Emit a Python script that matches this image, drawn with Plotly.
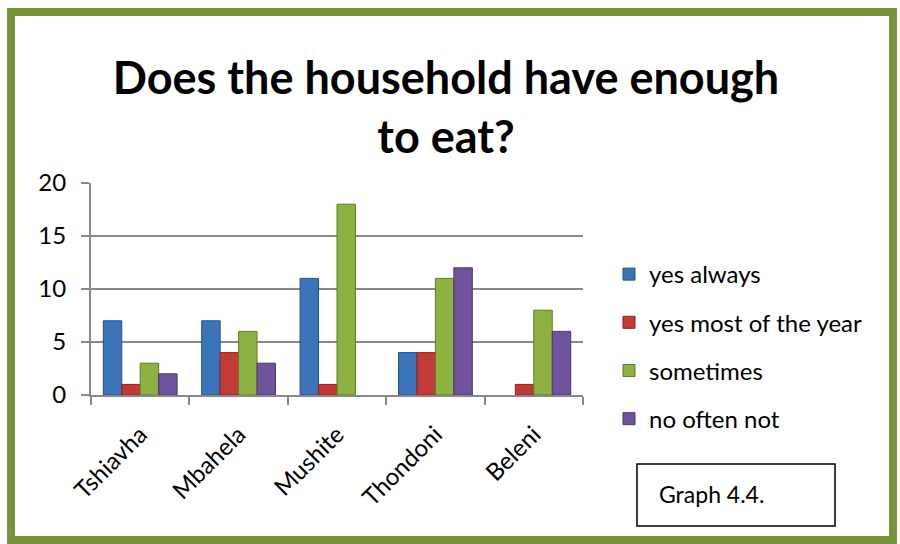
import plotly.graph_objects as go

villages = ["Tshiavha", "Mbahela", "Mushite", "Thondoni", "Beleni"]
yes_always = [7, 7, 11, 4, 0]
yes_most = [1, 4, 1, 4, 1]
sometimes = [3, 6, 18, 11, 8]
no_often_not = [2, 3, 0, 12, 6]
series_names = ["yes always", "yes most of the year", "sometimes", "no often not"]
y_ticks = [0, 5, 10, 15, 20]

colors = ["#3B74B9", "#C23B36", "#8DB23F", "#71529C"]
edges = ["#24507F", "#8A2420", "#5F7C25", "#4C3570"]

FONT = "Lato"
L, R, T, B = 91, 317, 183, 149
W, H = 900, 544
pw, ph = W - L - R, H - T - B

def px_x(x):
    return (x - L) / pw

def px_y(y):
    return (H - B - y) / ph

fig = go.Figure()
for i, (name, vals) in enumerate(zip(series_names, [yes_always, yes_most, sometimes, no_often_not])):
    fig.add_trace(go.Bar(
        x=villages, y=vals, name=name,
        marker=dict(color=colors[i],
                    line=dict(color=edges[i], width=[1 if v > 0 else 0 for v in vals])),
        legendgroup=name,
    ))

fig.update_layout(
    width=W, height=H,
    margin=dict(l=L, r=R, t=T, b=B),
    paper_bgcolor="white", plot_bgcolor="white",
    barmode="group", bargap=0.25, bargroupgap=0,
    font=dict(family=FONT, size=24, color="black"),
    title=dict(
        text="<b>Does the household have enough<br>to eat?</b>",
        x=446 / W, xanchor="center", xref="container",
        y=1 - 94 / H, yanchor="top", yref="container",
        font=dict(family=FONT, size=45, color="black"),
    ),
    legend=dict(
        x=px_x(609), xanchor="left", y=px_y(252), yanchor="top",
        font=dict(family=FONT, size=24), tracegroupgap=14,
        bgcolor="rgba(0,0,0,0)",
    ),
    xaxis=dict(
        type="category", showline=True, linecolor="#888888", linewidth=2,
        ticks="outside", tickson="boundaries", ticklen=8, tickcolor="#888888",
        tickwidth=2, tickangle=-45, tickfont=dict(family=FONT, size=24),
        ticklabelstandoff=14,
    ),
    yaxis=dict(
        range=[0, 20], tickvals=y_ticks, showgrid=True, gridcolor="#888888",
        gridwidth=2, showline=True, linecolor="#888888", linewidth=2,
        ticks="outside", ticklen=8, tickcolor="#888888", tickwidth=2,
        tickfont=dict(family=FONT, size=24), ticklabelstandoff=10,
        zeroline=False,
    ),
    shapes=[
        dict(type="rect", xref="paper", yref="paper",
             x0=px_x(11), x1=px_x(893), y0=px_y(540), y1=px_y(12),
             line=dict(color="#77933C", width=8), layer="above"),
        dict(type="rect", xref="paper", yref="paper",
             x0=px_x(637), x1=px_x(835), y0=px_y(526), y1=px_y(464),
             line=dict(color="black", width=1.5)),
    ],
    annotations=[
        dict(text="Graph 4.4.", xref="paper", yref="paper",
             x=px_x(657), y=px_y(494), xanchor="left", yanchor="middle",
             showarrow=False, font=dict(family=FONT, size=23, color="black")),
    ],
)

fig.write_html("out.html", config={"displayModeBar": False},
               post_script="document.body.style.margin='0px';")
